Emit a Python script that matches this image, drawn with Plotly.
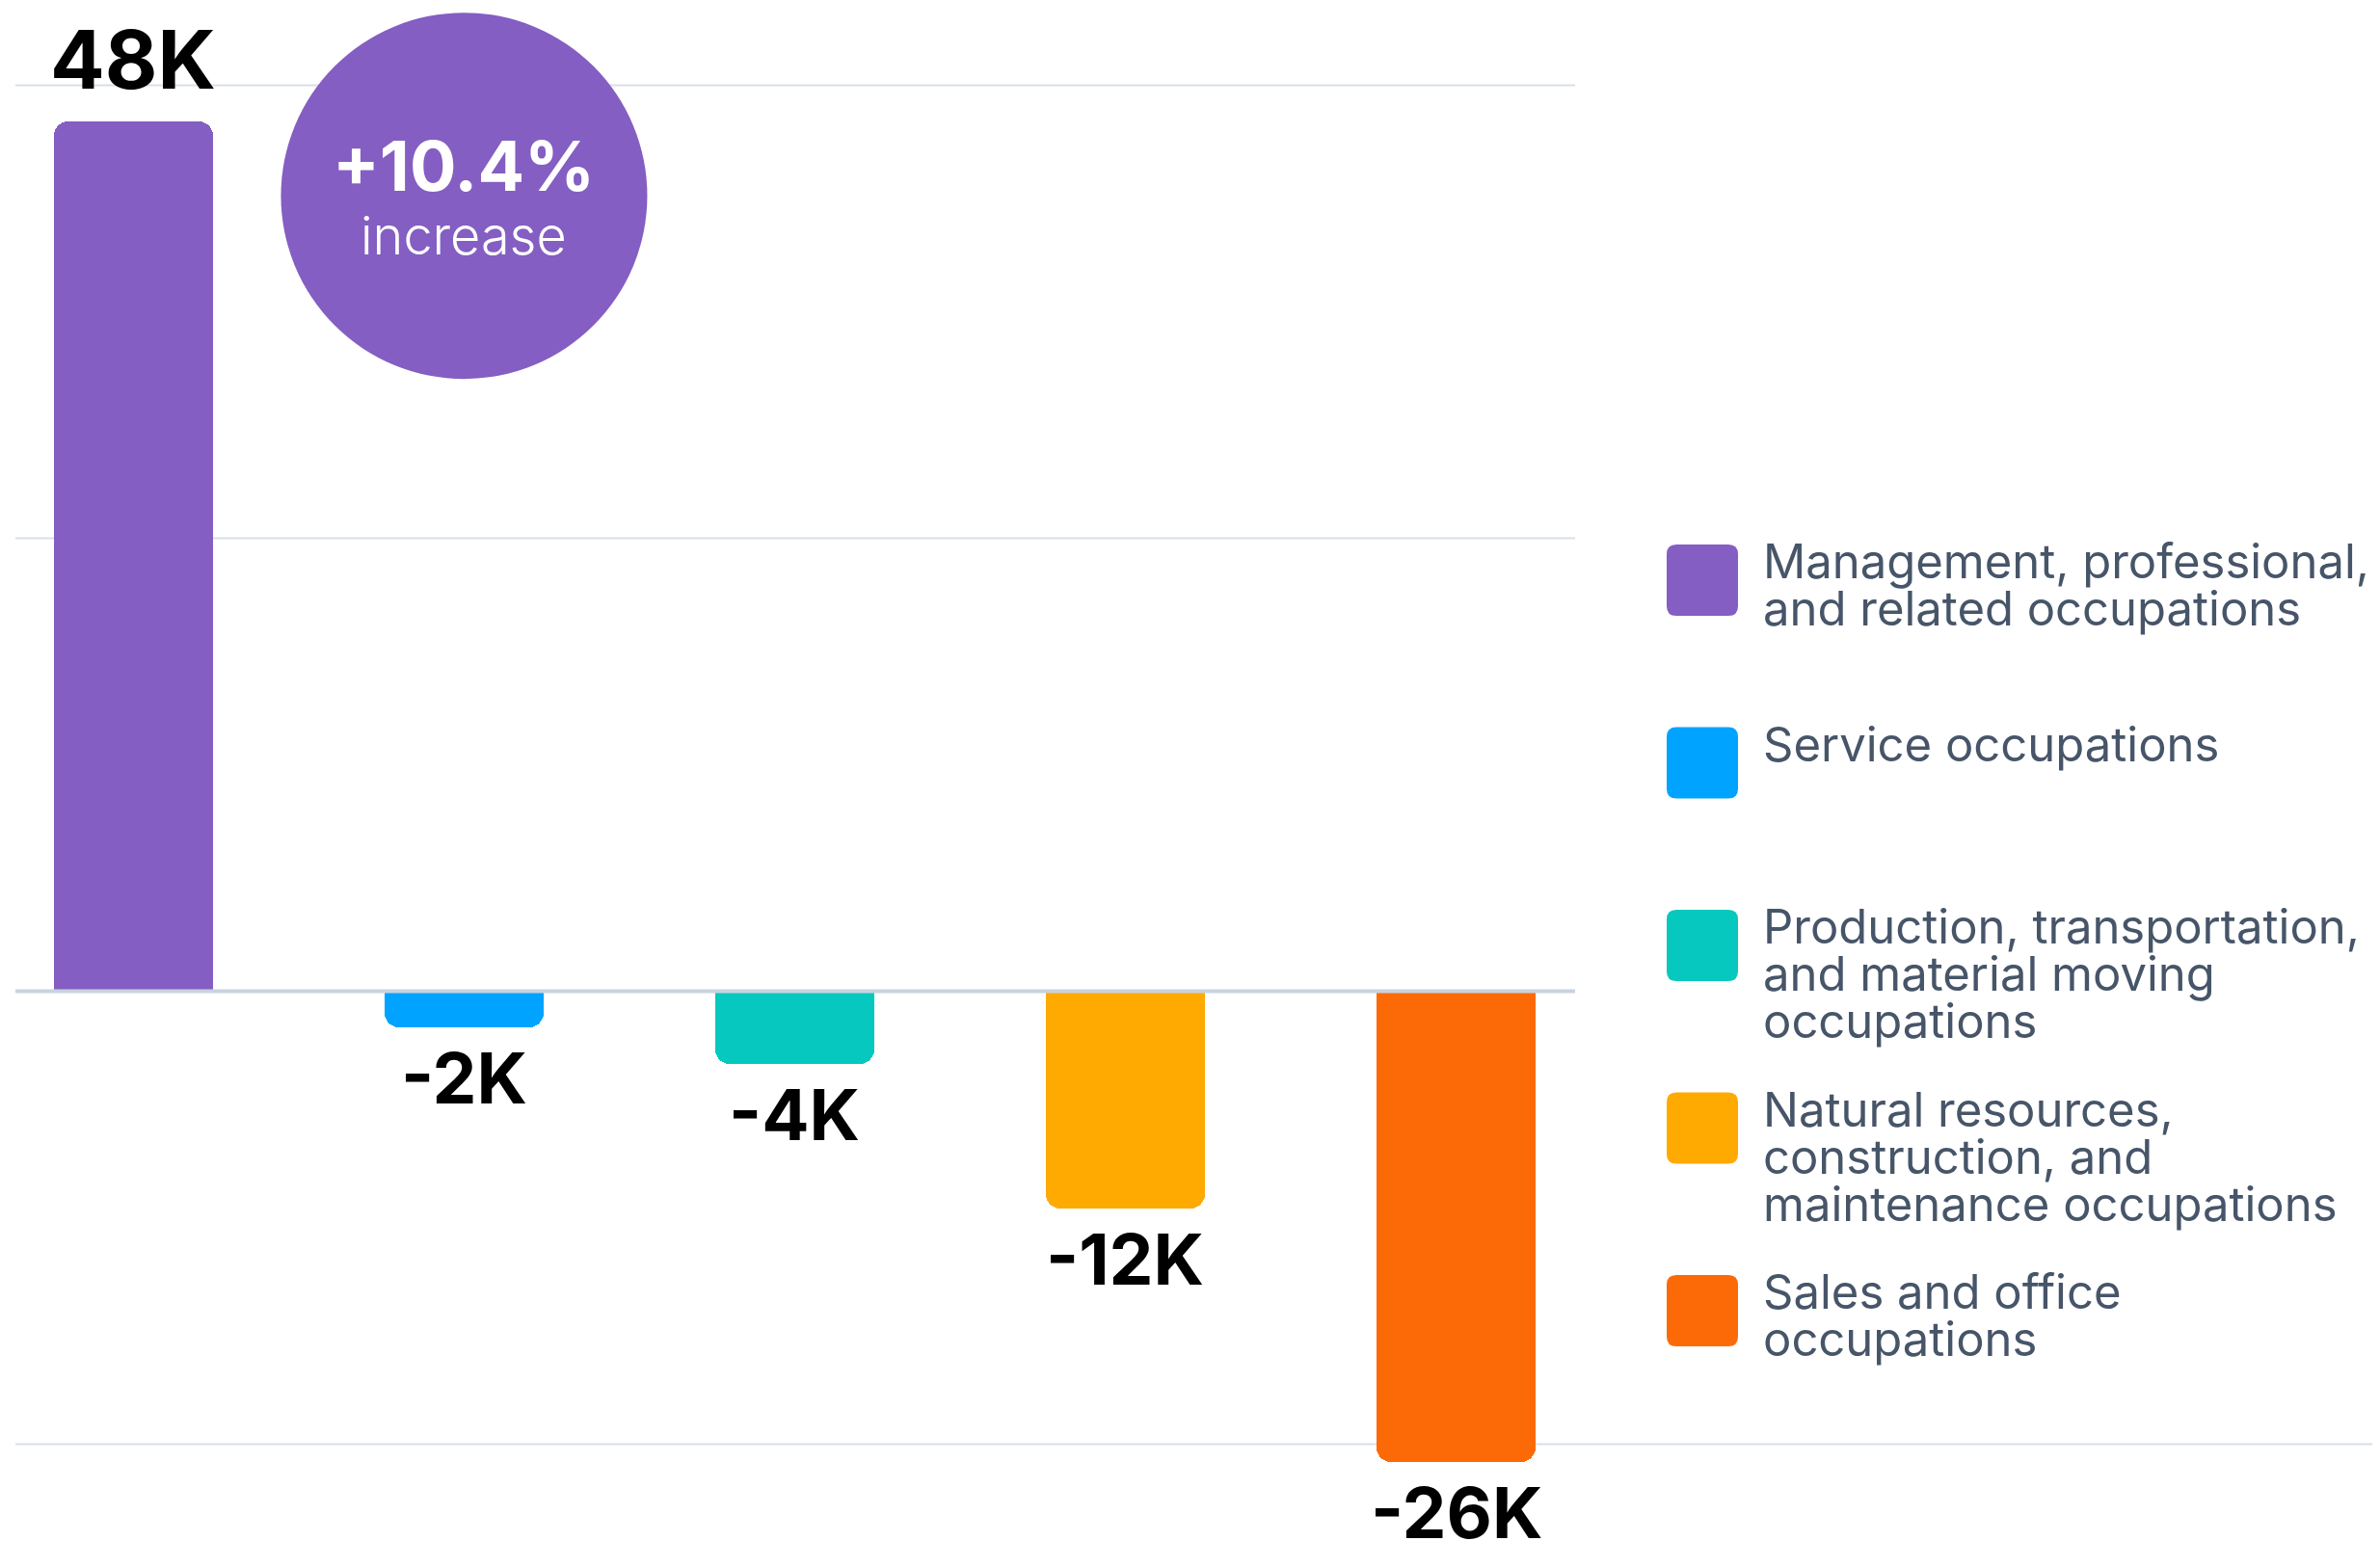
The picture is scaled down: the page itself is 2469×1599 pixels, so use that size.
import plotly.graph_objects as go

# ---- data ----
categories = [
    "Management, professional, and related occupations",
    "Service occupations",
    "Production, transportation, and material moving occupations",
    "Natural resources, construction, and maintenance occupations",
    "Sales and office occupations",
]
legend_lines = [
    ["Management, professional,", "and related occupations"],
    ["Service occupations"],
    ["Production, transportation,", "and material moving", "occupations"],
    ["Natural resources,", "construction, and", "maintenance occupations"],
    ["Sales and office", "occupations"],
]
changes = [48000, -2000, -4000, -12000, -26000]
colors = ["#845EC2", "#00A3FF", "#06C8BE", "#FFAA00", "#FC6A08"]
badge_value = "+10.4%"
badge_label = "increase"
grid_values = [-25000, 0, 25000, 50000]

# ---- layout geometry (pixels, figure coordinates) ----
W, H = 2469, 1599
OFF = 8  # page offset of the figure inside the html body
ML, MR, MT, MB = 16 - OFF, 2469 - (1634 - OFF), 0, 0
PW = W - ML - MR
PH = H - MT - MB
PX_PER_UNIT = 18.8 / 1000
ZERO_PX = 1028.5 - OFF
Y_MAX = ZERO_PX / PX_PER_UNIT
Y_MIN = -(PH - ZERO_PX) / PX_PER_UNIT
X_MIN, X_MAX = -0.3569, 4.360

FONT = "Inter, 'Noto Sans', sans-serif"
TEXT_COL = "#475569"

def px_to_paper_x(px):
    return (px - OFF - ML) / PW

def px_to_paper_y(py):
    return 1 - (py - OFF - MT) / PH

xs = list(range(len(categories)))

fig = go.Figure()
fig.add_trace(go.Bar(
    x=xs, y=changes, width=0.48,
    marker=dict(color=colors, cornerradius=15, line=dict(width=0)),
    showlegend=False, hoverinfo="skip",
))

shapes = []
# gridlines (non-zero); the lowest one runs across the full width
for g in grid_values:
    if g == 0:
        continue
    x1 = 1.0 if g > 0 else (W - ML) / PW
    shapes.append(dict(type="line", xref="paper", yref="y", x0=0, x1=x1, y0=g, y1=g,
                       line=dict(color="#D9E0E9", width=2), layer="below"))
# zero line
shapes.append(dict(type="line", xref="paper", yref="y", x0=0, x1=1, y0=0, y1=0,
                   line=dict(color="#C8D3E0", width=4), layer="above"))

# badge circle
R = 190
BADGE_Y = 43900
shapes.append(dict(type="circle", xref="x", yref="y", xsizemode="pixel", ysizemode="pixel",
                   xanchor=1, yanchor=BADGE_Y, x0=-R, x1=R, y0=-R, y1=R,
                   fillcolor=colors[0], line=dict(width=0), layer="above"))

annotations = []
# value labels
for i, v in enumerate(changes):
    txt = f"{v/1000:.0f}K"
    pos = v > 0
    annotations.append(dict(
        x=i, y=v, xref="x", yref="y", text=txt, showarrow=False,
        xanchor="center", yanchor="bottom" if pos else "top",
        yshift=12 if pos else -6,
        font=dict(family=FONT, size=84 if pos else 73, color="#000000", weight=700),
    ))

annotations.append(dict(x=1, y=BADGE_Y, xref="x", yref="y", text=badge_value, showarrow=False,
                        xanchor="center", yanchor="bottom", yshift=-14,
                        font=dict(family=FONT, size=72, color="white", weight=700)))
annotations.append(dict(x=1, y=BADGE_Y, xref="x", yref="y", text=badge_label, showarrow=False,
                        xanchor="center", yanchor="bottom", yshift=-76,
                        font=dict(family=FONT, size=54, color="white", weight=300)))

# manual legend
SQ = 74
SQ_X = 1729
TOP0 = 565
STEP = 189.5
TEXT_X = 1827
LINE_H = 49
r = 10
h = SQ / 2
rect_path = (f"M {-h + r},{-h} L {h - r},{-h} Q {h},{-h} {h},{-h + r} "
             f"L {h},{h - r} Q {h},{h} {h - r},{h} L {-h + r},{h} Q {-h},{h} {-h},{h - r} "
             f"L {-h},{-h + r} Q {-h},{-h} {-h + r},{-h} Z")
for i, lines in enumerate(legend_lines):
    top = TOP0 + STEP * i
    shapes.append(dict(type="path", xref="paper", yref="paper", xsizemode="pixel", ysizemode="pixel",
                       xanchor=px_to_paper_x(SQ_X + h), yanchor=px_to_paper_y(top + h),
                       path=rect_path, fillcolor=colors[i], line=dict(width=0)))
    for j, ln in enumerate(lines):
        baseline = top + 36 + LINE_H * j
        annotations.append(dict(
            x=px_to_paper_x(TEXT_X), y=px_to_paper_y(baseline + 13), xref="paper", yref="paper",
            text=ln, showarrow=False, xanchor="left", yanchor="bottom",
            font=dict(family=FONT, size=49, color=TEXT_COL, weight=400),
        ))

fig.update_layout(
    width=W, height=H,
    margin=dict(l=ML, r=MR, t=MT, b=MB, autoexpand=False),
    paper_bgcolor="white", plot_bgcolor="white",
    xaxis=dict(range=[X_MIN, X_MAX], visible=False, fixedrange=True),
    yaxis=dict(range=[Y_MIN, Y_MAX], showgrid=False, zeroline=False, showticklabels=False,
               fixedrange=True),
    shapes=shapes, annotations=annotations,
    bargap=0, showlegend=False,
)

fig.write_html("out.html")
